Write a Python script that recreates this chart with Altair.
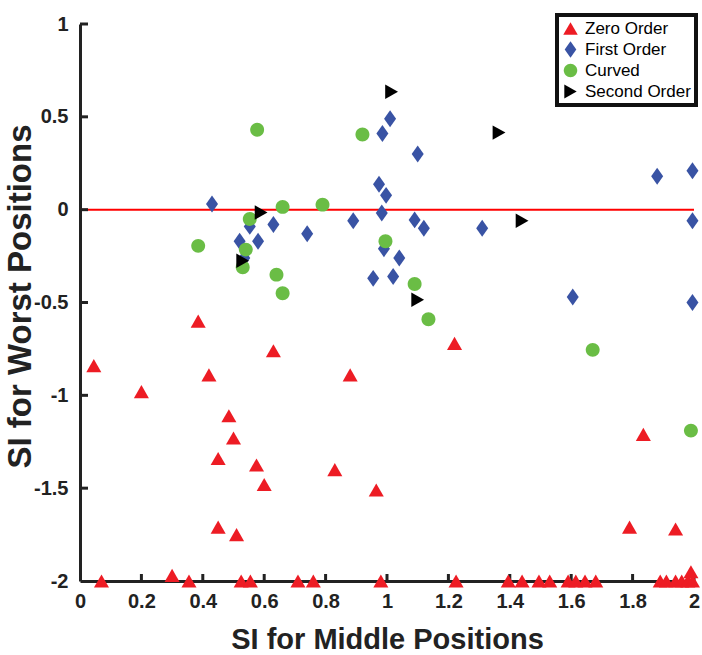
import altair as alt
import pandas as pd

# ---------------- data ----------------
series_names = ["Zero Order", "First Order", "Curved", "Second Order"]
series_colors = ["#ed1c24", "#3953a4", "#6abd45", "#000000"]

zero_x = [0.045, 0.07, 0.20, 0.30, 0.355, 0.385, 0.42, 0.45, 0.45, 0.485,
          0.50, 0.51, 0.525, 0.555, 0.575, 0.60, 0.63, 0.71, 0.76, 0.83,
          0.88, 0.965, 0.98, 1.22, 1.225, 1.395, 1.44, 1.495, 1.53, 1.59,
          1.615, 1.645, 1.68, 1.79, 1.835, 1.89, 1.91, 1.94, 1.94, 1.96,
          1.98, 1.995, 1.99]
zero_y = [-0.84, -2.0, -0.98, -1.97, -2.0, -0.60, -0.89, -1.34, -1.71, -1.11,
          -1.23, -1.75, -2.0, -2.0, -1.375, -1.48, -0.76, -2.0, -2.0, -1.40,
          -0.89, -1.51, -2.0, -0.72, -2.0, -2.0, -2.0, -2.0, -2.0, -2.0,
          -2.0, -2.0, -2.0, -1.71, -1.21, -2.0, -2.0, -1.72, -2.0, -2.0,
          -2.0, -2.0, -1.95]

first_x = [0.43, 0.553, 0.52, 0.58, 0.63, 0.74, 0.535, 1.01, 0.985, 1.10,
           0.974, 0.997, 0.983, 0.89, 1.09, 1.12, 1.31, 0.99, 1.04, 0.955,
           1.02, 1.88, 1.995, 1.995, 1.605, 1.995]
first_y = [0.03, -0.09, -0.17, -0.17, -0.08, -0.13, -0.26, 0.49, 0.41, 0.30,
           0.137, 0.077, -0.018, -0.06, -0.055, -0.10, -0.10, -0.21, -0.26, -0.37,
           -0.36, 0.18, 0.21, -0.06, -0.47, -0.50]

curved_x = [0.385, 0.553, 0.66, 0.79, 0.54, 0.53, 0.64, 0.66, 0.577, 0.92,
            0.995, 1.09, 1.135, 1.67, 1.99]
curved_y = [-0.195, -0.05, 0.015, 0.027, -0.215, -0.31, -0.35, -0.45, 0.43, 0.405,
            -0.17, -0.40, -0.59, -0.755, -1.19]

second_x = [0.59, 0.53, 1.015, 1.365, 1.44, 1.10]
second_y = [-0.015, -0.275, 0.635, 0.415, -0.06, -0.485]

x_ticks = [0, 0.2, 0.4, 0.6, 0.8, 1, 1.2, 1.4, 1.6, 1.8, 2]
y_ticks = [-2, -1.5, -1, -0.5, 0, 0.5, 1]
ref_line_x = [0]
ref_line_x2 = [2]
ref_line_y = [0]

# ---------------- tables ----------------
rows = []
for name, xs, ys in zip(series_names,
                        [zero_x, first_x, curved_x, second_x],
                        [zero_y, first_y, curved_y, second_y]):
    for a, b in zip(xs, ys):
        rows.append({"x": a, "y": b, "series": name})
df = pd.DataFrame(rows)

df_line = pd.DataFrame({"x": ref_line_x, "x2": ref_line_x2, "y": ref_line_y})
df_xt = pd.DataFrame({"x": x_ticks[1:]})
df_yt = pd.DataFrame({"y": y_ticks[1:]})

# ---------------- styling ----------------
W, H = 614, 557
FONT = "Liberation Sans"
AX = "#222222"

shapes = [
    "M0,-0.82L0.94,0.82L-0.94,0.82Z",              # triangle up
    "M0,-1.06L0.75,0L0,1.06L-0.75,0Z",             # tall diamond
    "M-0.87,0A0.87,0.87 0 1,0 0.87,0A0.87,0.87 0 1,0 -0.87,0Z",  # circle
    "M-0.8,-0.9L0.8,0L-0.8,0.9Z",                  # triangle right
]

xscale = alt.Scale(domain=[0, 2], nice=False, zero=False)
yscale = alt.Scale(domain=[-2, 1], nice=False, zero=False)
lab = "replace(format(datum.value, '~g'), '\u2212', '-')"

x_axis = alt.Axis(values=x_ticks, title="SI for Middle Positions", labelExpr=lab,
                  labelFlush=False, labelPadding=10, ticks=False,
                  titleFontSize=29, titleBaseline="alphabetic", titleY=67)
y_axis = alt.Axis(values=y_ticks, title="SI for Worst Positions", labelExpr=lab,
                  labelFlush=False, labelPadding=12, ticks=False,
                  titleFontSize=33, titleBaseline="alphabetic", titleX=-50,
                  titleY=272, titleAlign="center", titleAngle=270)

legend = alt.Legend(title=None, orient="none", legendX=477, legendY=-9,
                    labelFont=FONT, labelFontSize=17, labelColor="black",
                    symbolSize=240, strokeColor="#111111", fillColor="white",
                    padding=5, rowPadding=3, labelOffset=6, symbolStrokeWidth=0)

line = alt.Chart(df_line).mark_rule(color="#ff0000", strokeWidth=2).encode(
    x=alt.X("x:Q", scale=xscale, axis=x_axis),
    x2="x2:Q",
    y=alt.Y("y:Q", scale=yscale, axis=y_axis),
)

xt = alt.Chart(df_xt).mark_rule(color=AX, strokeWidth=3).encode(
    x=alt.X("x:Q", scale=xscale, axis=x_axis),
    y=alt.value(H),
    y2=alt.value(H - 7),
)

yt = alt.Chart(df_yt).mark_rule(color=AX, strokeWidth=3).encode(
    y=alt.Y("y:Q", scale=yscale, axis=y_axis),
    x=alt.value(0),
    x2=alt.value(8),
)

points = alt.Chart(df).mark_point(filled=True, opacity=1, size=256, strokeWidth=0).encode(
    x=alt.X("x:Q", scale=xscale, axis=x_axis),
    y=alt.Y("y:Q", scale=yscale, axis=y_axis),
    color=alt.Color("series:N", scale=alt.Scale(domain=series_names, range=series_colors),
                    legend=legend),
    shape=alt.Shape("series:N", scale=alt.Scale(domain=series_names, range=shapes),
                    legend=legend),
)

chart = alt.layer(line, xt, yt, points).properties(
    width=W, height=H,
    autosize=alt.AutoSizeParams(type="none"),
    padding={"left": 80, "top": 24, "right": 8, "bottom": 74},
    background="white",
).configure_view(stroke=None).configure_axis(
    domainColor=AX, domainWidth=3, grid=False,
    labelFont=FONT, labelFontWeight="bold", labelFontSize=20, labelColor=AX,
    titleFont=FONT, titleFontWeight="bold", titleColor=AX,
).configure_legend(strokeWidth=4)

chart.save("out.html", embed_options={"renderer": "svg", "actions": False})
